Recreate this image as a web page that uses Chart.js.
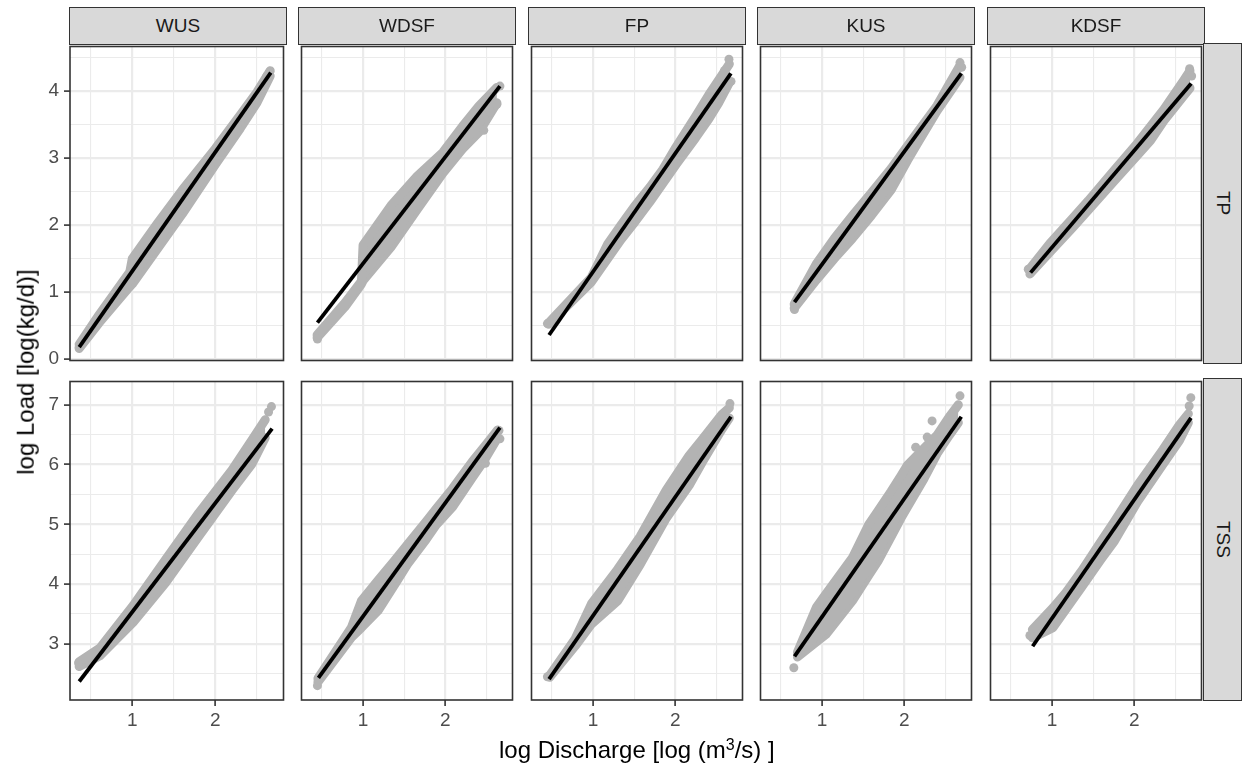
<!DOCTYPE html>
<html><head><meta charset="utf-8">
<script src="https://cdn.jsdelivr.net/npm/chart.js@4.4.1/dist/chart.umd.min.js"></script>
<style>
html,body{margin:0;padding:0;background:#fff;}
body{width:1248px;height:771px;position:relative;overflow:hidden;font-family:'Liberation Sans',Arial,sans-serif;}
canvas{position:absolute;}
.strip{position:absolute;box-sizing:border-box;background:#d9d9d9;border:1.5px solid #333;color:#1a1a1a;font-size:19px;display:flex;align-items:center;justify-content:center;}
.strip.v span{writing-mode:vertical-rl;}
.title{position:absolute;color:#000;font-size:24px;white-space:nowrap;line-height:1;}
</style></head><body>
<script>
// ---------- categories & ticks ----------
const columns = ['WUS', 'WDSF', 'FP', 'KUS', 'KDSF'];
const rowNames = ['TP', 'TSS'];
const xTickLabels = [1, 2];
const yTickLabelsTP = [0, 1, 2, 3, 4];
const yTickLabelsTSS = [3, 4, 5, 6, 7];
const xLimits = [0.25, 2.82];
const yLimitsTP = [-0.02, 4.66];
const yLimitsTSS = [2.06, 7.39];

// ---------- TP row: point cloud (upper / lower outer points), isolated points, fitted line ----------
const WUS_TP_x  = [0.36, 0.6, 0.97, 1.0, 1.3, 1.6, 2.0, 2.3, 2.5, 2.66];
const WUS_TP_hi = [0.22, 0.66, 1.30, 1.50, 2.02, 2.52, 3.14, 3.64, 3.98, 4.30];
const WUS_TP_lo = [0.16, 0.54, 1.08, 1.12, 1.64, 2.16, 2.90, 3.44, 3.82, 4.22];
const WUS_TP_extraX = [0.36, 2.655, 2.62];
const WUS_TP_extraY = [0.18, 4.28, 4.22];
const WUS_TP_fitX = [0.361, 2.667];
const WUS_TP_fitY = [0.18, 4.27];

const WDSF_TP_x  = [0.44, 0.78, 0.98, 1.0, 1.34, 1.66, 1.97, 2.21, 2.41, 2.63];
const WDSF_TP_hi = [0.36, 0.84, 1.16, 1.70, 2.29, 2.73, 3.08, 3.47, 3.77, 4.05];
const WDSF_TP_lo = [0.32, 0.78, 1.12, 1.17, 1.67, 2.23, 2.77, 3.13, 3.38, 3.82];
const WDSF_TP_extraX = [0.444, 2.667, 2.63, 2.55, 2.47];
const WDSF_TP_extraY = [0.30, 4.07, 3.80, 3.68, 3.41];
const WDSF_TP_fitX = [0.444, 2.667];
const WDSF_TP_fitY = [0.544, 4.07];

const FP_TP_x  = [0.46, 0.98, 1.18, 1.34, 1.5, 1.69, 1.85, 2.01, 2.25, 2.41, 2.53, 2.66];
const FP_TP_hi = [0.54, 1.22, 1.72, 2.00, 2.27, 2.56, 2.83, 3.16, 3.62, 3.94, 4.16, 4.40];
const FP_TP_lo = [0.52, 1.15, 1.50, 1.78, 2.03, 2.34, 2.62, 2.90, 3.30, 3.58, 3.82, 4.12];
const FP_TP_extraX = [0.444, 2.655, 2.68, 2.60];
const FP_TP_extraY = [0.53, 4.47, 4.14, 4.30];
const FP_TP_fitX = [0.464, 2.679];
const FP_TP_fitY = [0.36, 4.26];

const KUS_TP_x  = [0.66, 0.93, 1.15, 1.37, 1.6, 1.84, 2.04, 2.16, 2.4, 2.68];
const KUS_TP_hi = [0.82, 1.42, 1.80, 2.14, 2.48, 2.84, 3.18, 3.38, 3.78, 4.38];
const KUS_TP_lo = [0.76, 1.18, 1.50, 1.80, 2.14, 2.52, 2.96, 3.21, 3.70, 4.20];
const KUS_TP_extraX = [0.664, 2.68, 2.70];
const KUS_TP_extraY = [0.74, 4.42, 4.35];
const KUS_TP_fitX = [0.664, 2.696];
const KUS_TP_fitY = [0.85, 4.26];

const KDSF_TP_x  = [0.73, 0.97, 1.25, 1.44, 1.76, 2.04, 2.2, 2.36, 2.6, 2.68];
const KDSF_TP_hi = [1.35, 1.72, 2.10, 2.36, 2.82, 3.22, 3.47, 3.72, 4.15, 4.30];
const KDSF_TP_lo = [1.27, 1.59, 1.96, 2.22, 2.66, 3.04, 3.26, 3.55, 3.92, 4.04];
const KDSF_TP_extraX = [0.71, 2.675, 2.70];
const KDSF_TP_extraY = [1.34, 4.33, 4.22];
const KDSF_TP_fitX = [0.738, 2.694];
const KDSF_TP_fitY = [1.29, 4.11];

// ---------- TSS row ----------
const WUS_TSS_x  = [0.36, 0.61, 1.01, 1.40, 1.80, 2.20, 2.44, 2.6];
const WUS_TSS_hi = [2.70, 2.93, 3.64, 4.41, 5.19, 5.91, 6.41, 6.75];
const WUS_TSS_lo = [2.62, 2.80, 3.36, 4.02, 4.80, 5.57, 6.01, 6.45];
const WUS_TSS_extraX = [0.353, 2.675, 2.64];
const WUS_TSS_extraY = [2.68, 6.97, 6.88];
const WUS_TSS_fitX = [0.361, 2.683];
const WUS_TSS_fitY = [2.37, 6.60];

const WDSF_TSS_x  = [0.45, 0.86, 0.98, 1.18, 1.38, 1.54, 1.77, 1.89, 2.09, 2.33, 2.49, 2.64];
const WDSF_TSS_hi = [2.42, 3.28, 3.72, 4.06, 4.39, 4.66, 5.05, 5.26, 5.60, 6.05, 6.32, 6.58];
const WDSF_TSS_lo = [2.36, 3.11, 3.27, 3.55, 3.98, 4.33, 4.75, 4.99, 5.29, 5.78, 6.10, 6.45];
const WDSF_TSS_extraX = [0.444, 2.655, 2.667, 2.49];
const WDSF_TSS_extraY = [2.30, 6.57, 6.43, 6.02];
const WDSF_TSS_fitX = [0.456, 2.667];
const WDSF_TSS_fitY = [2.43, 6.62];

const FP_TSS_x  = [0.47, 0.78, 0.98, 1.30, 1.575, 1.89, 2.17, 2.33, 2.57, 2.66];
const FP_TSS_hi = [2.47, 3.08, 3.67, 4.25, 4.80, 5.57, 6.15, 6.42, 6.84, 6.95];
const FP_TSS_lo = [2.44, 2.96, 3.33, 3.72, 4.33, 5.10, 5.65, 6.04, 6.59, 6.78];
const FP_TSS_extraX = [0.444, 2.667];
const FP_TSS_extraY = [2.45, 7.02];
const FP_TSS_fitX = [0.464, 2.679];
const FP_TSS_fitY = [2.41, 6.80];

const KUS_TSS_x  = [0.7, 0.93, 1.05, 1.37, 1.57, 1.68, 1.84, 1.96, 2.04, 2.24, 2.40, 2.55, 2.66];
const KUS_TSS_hi = [2.86, 3.61, 3.84, 4.44, 5.00, 5.22, 5.55, 5.81, 5.99, 6.27, 6.49, 6.80, 7.00];
const KUS_TSS_lo = [2.78, 3.03, 3.16, 3.72, 4.15, 4.38, 4.79, 5.10, 5.29, 5.76, 6.18, 6.49, 6.70];
const KUS_TSS_extraX = [0.656, 2.68, 2.34, 2.28, 2.14];
const KUS_TSS_extraY = [2.60, 7.15, 6.73, 6.46, 6.29];
const KUS_TSS_fitX = [0.664, 2.696];
const KUS_TSS_fitY = [2.79, 6.80];

const KDSF_TSS_x  = [0.76, 1.01, 1.17, 1.36, 1.60, 1.76, 2.04, 2.35, 2.55, 2.66];
const KDSF_TSS_hi = [3.24, 3.60, 3.86, 4.22, 4.72, 5.05, 5.65, 6.25, 6.66, 6.85];
const KDSF_TSS_lo = [3.10, 3.27, 3.58, 3.95, 4.42, 4.72, 5.38, 6.00, 6.40, 6.70];
const KDSF_TSS_extraX = [0.73, 2.69, 2.67];
const KDSF_TSS_extraY = [3.14, 7.12, 6.98];
const KDSF_TSS_fitX = [0.763, 2.692];
const KDSF_TSS_fitY = [2.96, 6.78];

const panelData = {
  WUS_TP:  [WUS_TP_x, WUS_TP_hi, WUS_TP_lo, WUS_TP_extraX, WUS_TP_extraY, WUS_TP_fitX, WUS_TP_fitY],
  WDSF_TP: [WDSF_TP_x, WDSF_TP_hi, WDSF_TP_lo, WDSF_TP_extraX, WDSF_TP_extraY, WDSF_TP_fitX, WDSF_TP_fitY],
  FP_TP:   [FP_TP_x, FP_TP_hi, FP_TP_lo, FP_TP_extraX, FP_TP_extraY, FP_TP_fitX, FP_TP_fitY],
  KUS_TP:  [KUS_TP_x, KUS_TP_hi, KUS_TP_lo, KUS_TP_extraX, KUS_TP_extraY, KUS_TP_fitX, KUS_TP_fitY],
  KDSF_TP: [KDSF_TP_x, KDSF_TP_hi, KDSF_TP_lo, KDSF_TP_extraX, KDSF_TP_extraY, KDSF_TP_fitX, KDSF_TP_fitY],
  WUS_TSS:  [WUS_TSS_x, WUS_TSS_hi, WUS_TSS_lo, WUS_TSS_extraX, WUS_TSS_extraY, WUS_TSS_fitX, WUS_TSS_fitY],
  WDSF_TSS: [WDSF_TSS_x, WDSF_TSS_hi, WDSF_TSS_lo, WDSF_TSS_extraX, WDSF_TSS_extraY, WDSF_TSS_fitX, WDSF_TSS_fitY],
  FP_TSS:   [FP_TSS_x, FP_TSS_hi, FP_TSS_lo, FP_TSS_extraX, FP_TSS_extraY, FP_TSS_fitX, FP_TSS_fitY],
  KUS_TSS:  [KUS_TSS_x, KUS_TSS_hi, KUS_TSS_lo, KUS_TSS_extraX, KUS_TSS_extraY, KUS_TSS_fitX, KUS_TSS_fitY],
  KDSF_TSS: [KDSF_TSS_x, KDSF_TSS_hi, KDSF_TSS_lo, KDSF_TSS_extraX, KDSF_TSS_extraY, KDSF_TSS_fitX, KDSF_TSS_fitY]
};

// ---------- layout ----------
const colLeft = [70, 299, 529, 758, 988];
const panelW = 216;
const rowTop = [44, 379];
const rowH = [319, 321];
const yAxisW = 60, xAxisH = 42, pad = 2;
const grey = '#b3b3b3';

Chart.defaults.font.family = "'Liberation Sans', Arial, sans-serif";
Chart.defaults.font.size = 19;

function pts(xs, ys) { return xs.map((x, i) => ({ x: x, y: ys[i] })); }
function isMajor(v) { return Math.abs(v - Math.round(v)) < 1e-6; }
function halfTicks(min, max) {
  const a = [];
  for (let v = Math.ceil(min * 2) / 2; v <= max + 1e-9; v += 0.5) a.push({ value: Math.round(v * 2) / 2 });
  return a;
}

const borderPlugin = {
  id: 'panelBorder',
  afterDraw(chart) {
    const a = chart.chartArea, ctx = chart.ctx;
    ctx.save();
    ctx.strokeStyle = '#333333';
    ctx.lineWidth = 1.6;
    ctx.strokeRect(a.left, a.top, a.right - a.left, a.bottom - a.top);
    ctx.restore();
  }
};

function axisOpts(show, limits, labels, isX, size) {
  return {
    type: 'linear', min: limits[0], max: limits[1],
    afterBuildTicks: s => { s.ticks = halfTicks(s.min, s.max); },
    afterFit: s => {
      if (isX) s.height = size; else s.width = size;
      s.paddingLeft = 0; s.paddingRight = 0; s.paddingTop = 0; s.paddingBottom = 0;
    },
    ticks: {
      display: show, autoSkip: false, maxRotation: 0, color: '#4d4d4d', padding: isX ? 3 : 5,
      font: { size: 19 },
      callback: v => (isMajor(v) && labels.includes(Math.round(v))) ? String(Math.round(v)) : ''
    },
    grid: {
      color: '#ebebeb',
      lineWidth: c => (c.tick && isMajor(c.tick.value)) ? 2.2 : 1.1,
      drawTicks: show, tickLength: 6, tickWidth: 1.6,
      tickColor: c => (c.tick && isMajor(c.tick.value)) ? '#333333' : 'rgba(0,0,0,0)'
    },
    border: { display: false }
  };
}

rowNames.forEach((rn, r) => {
  columns.forEach((cn, c) => {
    const d = panelData[cn + '_' + rn];
    const showY = c === 0, showX = r === 1;
    const yW = showY ? yAxisW : 0, xH = showX ? xAxisH : 0;
    const cv = document.createElement('canvas');
    const W = panelW + yW + 2 * pad, H = rowH[r] + xH + 2 * pad;
    cv.width = W; cv.height = H;
    cv.style.left = (colLeft[c] - yW - pad) + 'px';
    cv.style.top = (rowTop[r] - pad) + 'px';
    cv.style.width = W + 'px'; cv.style.height = H + 'px';
    document.body.appendChild(cv);
    const yLim = r === 0 ? yLimitsTP : yLimitsTSS;
    const yLab = r === 0 ? yTickLabelsTP : yTickLabelsTSS;
    new Chart(cv, {
      type: 'line',
      data: {
        datasets: [
          { data: pts(d[0], d[2]), order: 3, borderColor: grey, backgroundColor: grey, borderWidth: 9,
            borderJoinStyle: 'round', borderCapStyle: 'round', pointRadius: 0, fill: false, tension: 0 },
          { data: pts(d[0], d[1]), order: 2, borderColor: grey, backgroundColor: grey, borderWidth: 9,
            borderJoinStyle: 'round', borderCapStyle: 'round', pointRadius: 0, fill: '-1', tension: 0 },
          { data: pts(d[3], d[4]), order: 1, showLine: false, pointRadius: 4.5, pointBackgroundColor: grey,
            pointBorderWidth: 0, fill: false },
          { data: pts(d[5], d[6]), order: 0, borderColor: '#000000', borderWidth: 3.8, pointRadius: 0,
            fill: false, borderCapStyle: 'butt', tension: 0 }
        ]
      },
      options: {
        responsive: false, animation: false, events: [],
        layout: { padding: pad },
        plugins: { legend: { display: false }, tooltip: { enabled: false } },
        scales: {
          x: axisOpts(showX, xLimits, xTickLabels, true, xH),
          y: axisOpts(showY, yLim, yLab, false, yW)
        }
      },
      plugins: [borderPlugin]
    });
  });
});

// ---------- strips ----------
columns.forEach((cn, c) => {
  const s = document.createElement('div');
  s.className = 'strip';
  s.style.left = (colLeft[c] - 1) + 'px';
  s.style.top = '7px';
  s.style.width = (panelW + 2) + 'px';
  s.style.height = '38px';
  s.textContent = cn;
  document.body.appendChild(s);
});
rowNames.forEach((rn, r) => {
  const s = document.createElement('div');
  s.className = 'strip v';
  s.style.left = (colLeft[4] + panelW - 1) + 'px';
  s.style.top = (rowTop[r] - 1) + 'px';
  s.style.width = '39px';
  s.style.height = (rowH[r] + 2) + 'px';
  const sp = document.createElement('span');
  sp.textContent = rn;
  s.appendChild(sp);
  document.body.appendChild(s);
});

// ---------- axis titles ----------
const xt = document.createElement('div');
xt.className = 'title';
xt.innerHTML = 'log Discharge [log (m<sup style="font-size:16px;vertical-align:8px;line-height:0">3</sup>/s) ]';
document.body.appendChild(xt);
xt.style.left = (637 - xt.offsetWidth / 2) + 'px';
xt.style.top = (750 - xt.offsetHeight / 2) + 'px';

const yt = document.createElement('div');
yt.className = 'title';
yt.textContent = 'log Load [log(kg/d)]';
document.body.appendChild(yt);
yt.style.left = (25 - yt.offsetWidth / 2) + 'px';
yt.style.top = (372 - yt.offsetHeight / 2) + 'px';
yt.style.transform = 'rotate(-90deg)';
</script>
</body></html>
